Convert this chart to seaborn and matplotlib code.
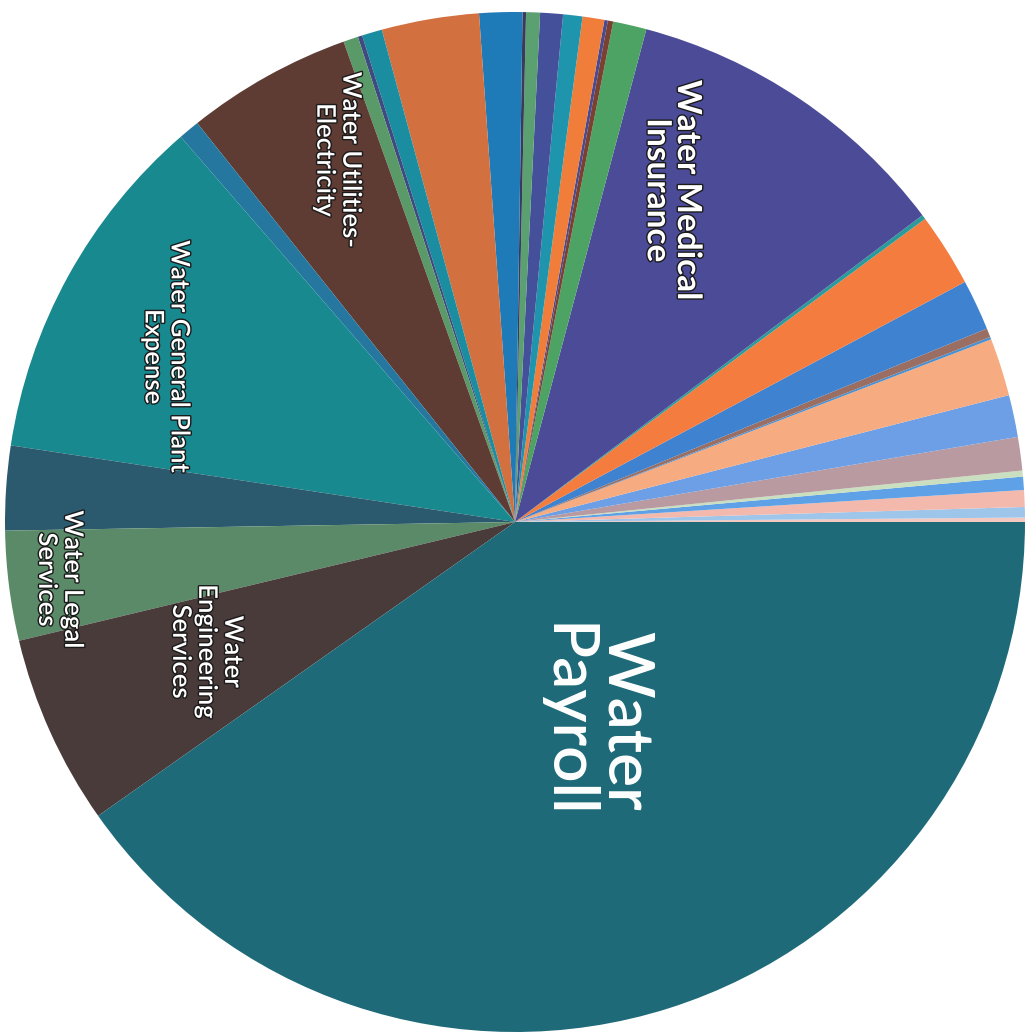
import matplotlib.pyplot as plt
import seaborn as sns
import numpy as np
from matplotlib import patheffects as pe

# Water budget pie (scanned, rotated labels)
sns.set_theme(style="white")
plt.rcParams['font.family'] = ['Lato', 'DejaVu Sans']

# slice shares in percent, counterclockwise from 3 o'clock
shares = [0.14, 0.33, 0.53, 0.42, 0.19, 1.06, 1.33, 1.83, 0.08, 0.28,
          1.61, 2.33, 0.14, 10.58, 1.06, 0.17, 0.11, 0.69, 0.61, 0.72,
          0.44, 0.11, 1.36, 3.08, 0.64, 0.14, 0.47, 5.25, 0.67, 11.22,
          2.67, 3.47, 6.03, 40.22]

labels = [''] * 13 + ['Water Medical\nInsurance'] + [''] * 13 + \
         ['Water Utilities-\nElectricity', '', 'Water General Plant\nExpense',
          '', 'Water Legal\nServices', 'Water\nEngineering\nServices',
          'Water\nPayroll']

colors = ['#f3c9c0', '#9ec5ea', '#f4b9ad', '#5ea1e6', '#c9dfc0', '#b99aa0',
          '#6c9fe6', '#f6ab80', '#4a90d0', '#9a6e62', '#3f82d0', '#f37c3e',
          '#2a9a9a', '#4b4b98', '#4da364', '#7a4030', '#4a4a90', '#f07d3a',
          '#1f95ad', '#45509a', '#5aa070', '#3a3a5a', '#1f7ab8', '#d2703f',
          '#1a8ea0', '#3e4a80', '#5a9a68', '#5e3b33', '#2577a0', '#17898f',
          '#2b5a6e', '#5a8a68', '#4a3b3b', '#1f6a78']

# label placement: (radius fraction, angle offset from slice middle, font size, weight)
label_style = {
    'Water Medical\nInsurance': (0.72, 8.6, 24, 'bold'),
    'Water Utilities-\nElectricity': (0.79, -3.0, 18.5, 'semibold'),
    'Water General Plant\nExpense': (0.757, 3.5, 18.5, 'semibold'),
    'Water Legal\nServices': (0.90, 0.0, 18.5, 'semibold'),
    'Water\nEngineering\nServices': (0.656, -1.5, 18.5, 'semibold'),
    'Water\nPayroll': (0.42, 4.4, 46, 'semibold'),
}

fig = plt.figure(figsize=(10.35, 10.36), dpi=100)
ax = fig.add_axes([0, 0, 1, 1])
wedges, _ = ax.pie(shares, colors=colors, startangle=0, counterclock=True,
                   radius=1.0, wedgeprops=dict(linewidth=0))

for w, lab in zip(wedges, labels):
    if not lab:
        continue
    r, off, size, weight = label_style[lab]
    ang = np.deg2rad((w.theta1 + w.theta2) / 2 + off)
    t = ax.text(r * np.cos(ang), r * np.sin(ang), lab, rotation=-90,
                ha='center', va='center', multialignment='center',
                color='white', fontsize=size, fontweight=weight, linespacing=1.05)
    if size < 40:
        t.set_path_effects([pe.withStroke(linewidth=2, foreground='#1a1a1a')])

ax.set_xlim(-515 / 510, 520 / 510)
ax.set_ylim(-514 / 510, 522 / 510)
ax.set_aspect('equal')
ax.axis('off')

fig.savefig('out.png', dpi=100, facecolor='white')
